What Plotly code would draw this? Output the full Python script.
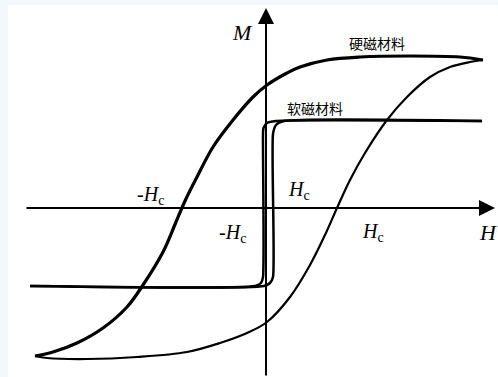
import plotly.graph_objects as go

# Hard magnetic material loop (H, M) in arbitrary units
hard_desc_H = [21.7, 19.4, 14.4, 9.4, 6.1, 3.4, 2.1, 0.1, -1.3, -3.3, -5.3, -6.9, -8.1,
               -9.0, -10.3, -12.3, -13.9, -16.3, -18.9, -21.3, -23.1]
hard_desc_M = [14.8, 15.1, 15.2, 15.1, 14.8, 14.1, 13.5, 12.3, 11.1, 8.8, 6.1, 3.1, 0.7,
               -1.4, -4.4, -7.7, -9.9, -12.0, -13.5, -14.4, -14.8]
hard_asc_H = [-23.1, -21.9, -17.9, -12.9, -7.9, -4.6, -1.9, 0.1, 2.4, 4.4, 5.9, 7.1, 8.4,
              9.9, 12.1, 14.1, 16.4, 18.4, 20.4, 21.7]
hard_asc_M = [-14.8, -15.0, -15.1, -14.9, -14.4, -13.5, -12.5, -11.4, -8.9, -5.7, -2.7, 0.0,
              2.8, 5.5, 8.8, 11.1, 13.1, 14.1, 14.6, 14.8]

# Soft magnetic material loop
soft_desc_H = [21.6, 1.0, 0.1, -0.25, -0.3, -0.3, -0.5, -1.1, -23.6]
soft_desc_M = [8.7, 8.7, 8.5, 8.0, 7.3, -6.9, -7.5, -7.8, -7.8]
soft_asc_H = [-23.6, -0.2, 0.4, 0.7, 0.7, 1.0, 1.8, 21.6]
soft_asc_M = [-7.8, -7.8, -7.5, -6.9, 7.4, 8.3, 8.7, 8.7]

# Axis extents
H_axis = [-24.1, 22.9]
M_axis = [-16.9, 20.0]

fig = go.Figure()
fig.add_trace(go.Scatter(x=hard_desc_H, y=hard_desc_M, mode="lines",
                         line=dict(color="black", width=3.2, shape="spline", smoothing=1.0)))
fig.add_trace(go.Scatter(x=hard_asc_H, y=hard_asc_M, mode="lines",
                         line=dict(color="black", width=2.2, shape="spline", smoothing=1.0)))
fig.add_trace(go.Scatter(x=soft_desc_H, y=soft_desc_M, mode="lines",
                         line=dict(color="black", width=2.5, shape="spline", smoothing=0.6)))
fig.add_trace(go.Scatter(x=soft_asc_H, y=soft_asc_M, mode="lines",
                         line=dict(color="black", width=2.5, shape="spline", smoothing=0.6)))

# axes lines with arrows
fig.add_annotation(x=H_axis[1], y=0, ax=H_axis[0], ay=0, xref="x", yref="y", axref="x", ayref="y",
                   showarrow=True, arrowhead=2, arrowsize=1.6, arrowwidth=2, arrowcolor="black", text="")
fig.add_annotation(x=0, y=M_axis[1], ax=0, ay=M_axis[0], xref="x", yref="y", axref="x", ayref="y",
                   showarrow=True, arrowhead=2, arrowsize=1.6, arrowwidth=2, arrowcolor="black", text="")

serif = "Liberation Serif, Times New Roman, serif"
cjk = "Noto Sans CJK SC"
labels = [
    (-2.4, 17.6, "<i>M</i>", serif, 22),
    (22.2, -2.4, "<i>H</i>", serif, 22),
    (-11.6, 1.3, "-<i>H</i><sub>c</sub>", serif, 20),
    (3.3, 1.8, "<i>H</i><sub>c</sub>", serif, 20),
    (-3.4, -2.5, "-<i>H</i><sub>c</sub>", serif, 20),
    (10.7, -2.4, "<i>H</i><sub>c</sub>", serif, 20),
    (11.1, 16.5, "硬磁材料", cjk, 14),
    (4.9, 10.0, "软磁材料", cjk, 14),
]
for hx, my, t, f, s in labels:
    fig.add_annotation(x=hx, y=my, text=t, showarrow=False, xref="x", yref="y",
                       font=dict(family=f, size=s, color="black"))

fig.update_layout(
    width=498, height=377,
    margin=dict(l=8, r=0, t=5, b=0),
    paper_bgcolor="#f2f8fc", plot_bgcolor="white",
    showlegend=False,
    xaxis=dict(range=[-25.8, 23.2], visible=False, fixedrange=True),
    yaxis=dict(range=[-16.9, 20.3], visible=False, fixedrange=True),
)
fig.write_html("out.html", config={"displayModeBar": False},
               post_script="document.body.style.margin='0';document.body.style.overflow='hidden';")
